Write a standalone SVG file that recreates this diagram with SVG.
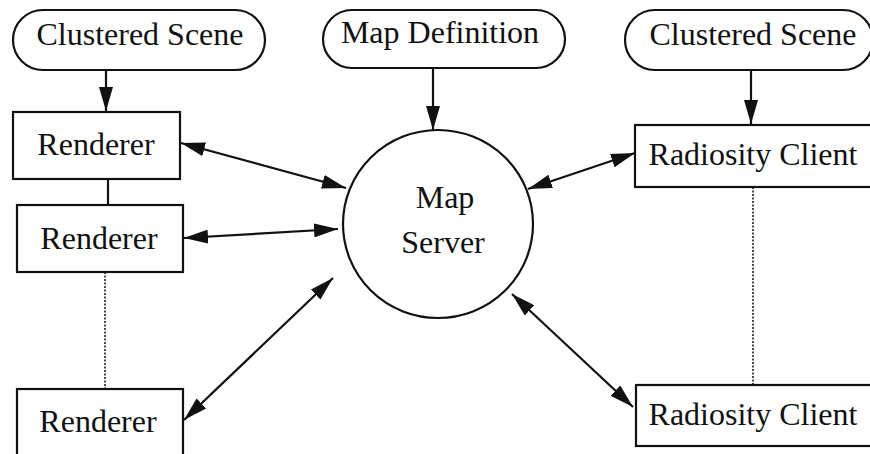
<svg xmlns="http://www.w3.org/2000/svg" width="870" height="454" viewBox="0 0 870 454">
<style>
.box{fill:#fff;stroke:#111;stroke-width:2.2}
.t{font-family:"Liberation Serif","Times New Roman",serif;font-size:32px;fill:#111;text-anchor:middle}
.c{stroke:#111;stroke-width:2.2;fill:none}
.d{stroke:#111;stroke-width:1.5;fill:none;stroke-dasharray:2 1.5}
</style>
<defs>
<marker id="ah" viewBox="0 0 24 14" refX="24" refY="7" markerWidth="24" markerHeight="14" markerUnits="userSpaceOnUse" orient="auto-start-reverse">
<path d="M0,0 L24,7 L0,14 Z" fill="#111"/>
</marker>
</defs>
<rect width="870" height="454" fill="#fff"/>
<g id="connectors">
<line class="c" x1="106" y1="70" x2="106" y2="111" marker-end="url(#ah)"/>
<line class="c" x1="433" y1="68" x2="433" y2="130" marker-end="url(#ah)"/>
<line class="c" x1="751" y1="70" x2="751" y2="124" marker-end="url(#ah)"/>
<line class="c" x1="108" y1="179" x2="108" y2="205"/>
<line class="d" x1="105" y1="272" x2="105" y2="389"/>
<line class="d" x1="753" y1="187" x2="753" y2="385"/>
<line class="c" x1="181" y1="143" x2="346" y2="188" marker-start="url(#ah)" marker-end="url(#ah)"/>
<line class="c" x1="184" y1="238" x2="338" y2="229" marker-start="url(#ah)" marker-end="url(#ah)"/>
<line class="c" x1="184" y1="420" x2="333" y2="278" marker-start="url(#ah)" marker-end="url(#ah)"/>
<line class="c" x1="635" y1="153" x2="528" y2="189" marker-start="url(#ah)" marker-end="url(#ah)"/>
<line class="c" x1="633" y1="407" x2="512" y2="294" marker-start="url(#ah)" marker-end="url(#ah)"/>
</g>
<g id="cs1"><rect class="box" x="13" y="10" width="252" height="60" rx="30"/><text class="t" x="140" y="45">Clustered Scene</text></g>
<g id="mapdef"><rect class="box" x="323" y="10" width="242" height="58" rx="29"/><text class="t" x="440" y="43">Map Definition</text></g>
<g id="cs2"><rect class="box" x="625" y="10" width="248" height="60" rx="30"/><text class="t" x="753" y="45">Clustered Scene</text></g>
<g id="r1"><rect class="box" x="13" y="112" width="167" height="67"/><text class="t" x="96" y="155">Renderer</text></g>
<g id="r2"><rect class="box" x="17" y="205" width="166" height="67"/><text class="t" x="99" y="249">Renderer</text></g>
<g id="r3"><rect class="box" x="17" y="389" width="166" height="70"/><text class="t" x="98" y="432">Renderer</text></g>
<g id="server"><ellipse class="box" cx="438" cy="224" rx="95" ry="94"/><text class="t" x="445" y="208">Map</text><text class="t" x="443" y="253">Server</text></g>
<g id="rc1"><rect class="box" x="635" y="125" width="240" height="62"/><text class="t" x="753" y="165">Radiosity Client</text></g>
<g id="rc2"><rect class="box" x="636" y="385" width="240" height="61"/><text class="t" x="753" y="425">Radiosity Client</text></g>
</svg>
